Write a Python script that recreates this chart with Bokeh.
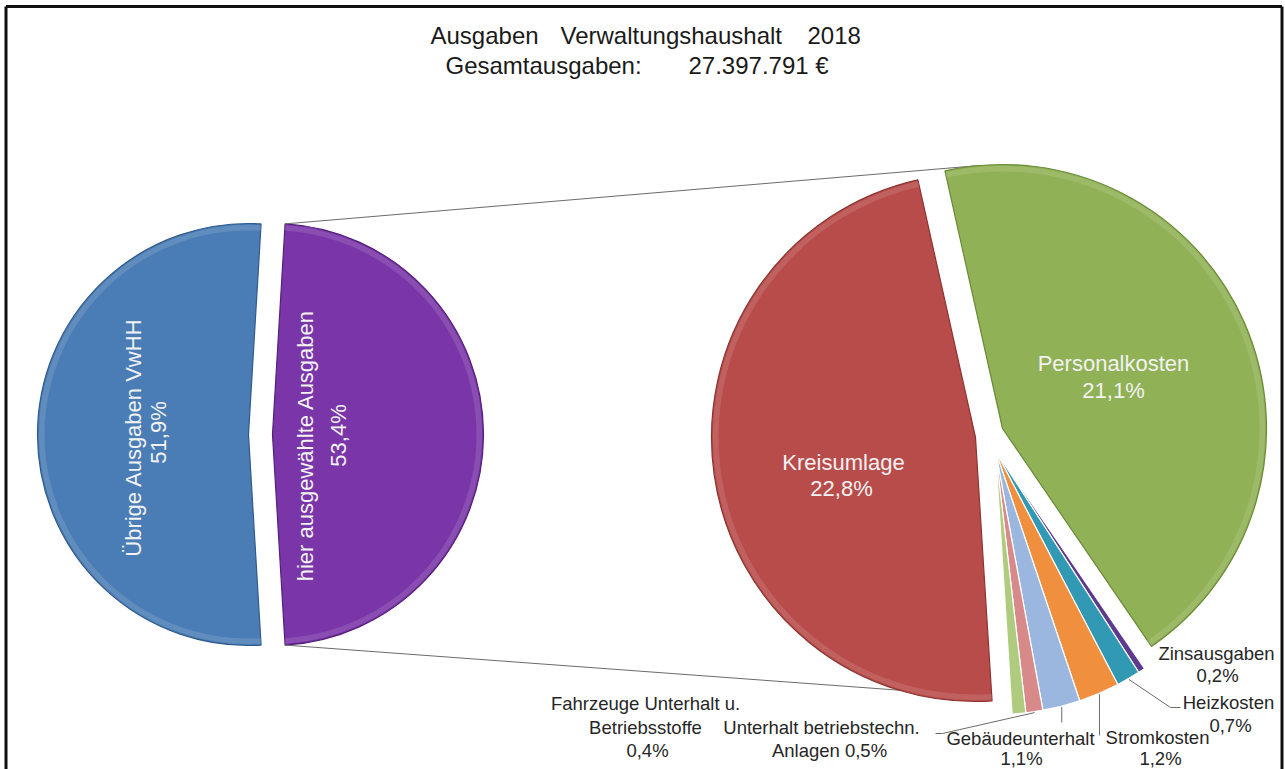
import math
from bokeh.plotting import figure
from bokeh.models import Range1d, ColumnDataSource
from bokeh.embed import file_html
from bokeh.resources import INLINE
from bokeh.core.properties import value

# ---------------- data ----------------
title_line1 = ["Ausgaben", "Verwaltungshaushalt", "2018"]
title_line2 = ["Gesamtausgaben:", "27.397.791 €"]

left_names = ["Übrige Ausgaben VwHH", "hier ausgewählte Ausgaben"]
left_shares = [51.9, 48.1]
left_label_pct = ["51,9%", "53,4%"]

right_names = ["Personalkosten", "Zinsausgaben", "Heizkosten", "Stromkosten",
               "Gebäudeunterhalt", "Unterhalt betriebstechn. Anlagen",
               "Fahrzeuge Unterhalt u. Betriebsstoffe", "Kreisumlage"]
right_values = [21.1, 0.2, 0.7, 1.2, 1.1, 0.5, 0.4, 22.8]
right_label_pct = ["21,1%", "0,2%", "0,7%", "1,2%", "1,1%", "0,5%", "0,4%", "22,8%"]

# ---------------- styles / layout ----------------
FONT = value("Liberation Sans")
left_colors = ["#4A7DB6", "#7A35A8"]
left_lines = ["#2F5A8A", "#55207A"]
right_colors = ["#90B155", "#5E3A8E", "#3199B3", "#F08F3E", "#9BB7DF",
                "#D8898A", "#AECB7E", "#B84C4A"]
right_lines = ["#6A8A38", "#FFFFFF", "#FFFFFF", "#FFFFFF", "#FFFFFF",
               "#FFFFFF", "#FFFFFF", "#8C3432"]

PW, PH = 1285, 769


def Y(sy):
    # screen y (pixels from top) -> data y (upwards)
    return PH - sy


D = math.pi / 180.0

p = figure(width=PW, height=PH, x_range=Range1d(0, PW), y_range=Range1d(0, PH),
           output_backend="svg", toolbar_location=None, min_border=0,
           x_axis_location=None, y_axis_location=None)
p.outline_line_color = None
p.grid.visible = False
p.background_fill_color = "white"
p.border_fill_color = "white"

# frame
p.line(x=[5.5, 5.5], y=[0, Y(6)], line_color="#111111", line_width=3)
p.line(x=[5.5, 1281.5], y=[Y(6), Y(6)], line_color="#111111", line_width=3)
p.line(x=[1281.5, 1281.5], y=[Y(6), 0], line_color="#111111", line_width=3)

# ---------------- left pie ----------------
R1 = 211
left_centers = [(248, 434), (272, 434)]
lt = sum(left_shares)
spans = [v / lt * 360 for v in left_shares]
mids = [180.0, 0.0]
lsrc = ColumnDataSource(dict(
    x=[c[0] for c in left_centers], y=[Y(c[1]) for c in left_centers],
    start=[(m - s / 2) * D for m, s in zip(mids, spans)],
    end=[(m + s / 2) * D for m, s in zip(mids, spans)],
    color=left_colors, lc=left_lines))
p.wedge(x="x", y="y", radius=R1, start_angle="start", end_angle="end",
        fill_color="color", line_color="lc", line_width=1.2, source=lsrc)
p.annular_wedge(x="x", y="y", inner_radius=R1 - 7, outer_radius=R1 - 1.5, start_angle="start",
                end_angle="end", fill_color="white", fill_alpha=0.12,
                line_color=None, source=lsrc)

pc = left_centers[1]
pa = math.radians(spans[1] / 2)
p_top = (pc[0] + R1 * math.cos(pa), pc[1] - R1 * math.sin(pa))
p_bot = (pc[0] + R1 * math.cos(pa), pc[1] + R1 * math.sin(pa))

# ---------------- right pie ----------------
R2 = 264
right_start = 102.6
right_centers = [(1002, 428)] + [(995, 450)] * 6 + [(975, 437)]
rt = sum(right_values)
starts, ends = [], []
a = right_start
for v in right_values:
    s = v / rt * 360
    ends.append(a)
    starts.append(a - s)
    a -= s
rsrc = ColumnDataSource(dict(
    x=[c[0] for c in right_centers], y=[Y(c[1]) for c in right_centers],
    start=[s * D for s in starts], end=[e * D for e in ends],
    color=right_colors, lc=right_lines))

# connector lines (drawn first, behind the pie)
gc = right_centers[0]
top_end = (gc[0] + R2 * math.cos(95 * D), gc[1] - R2 * math.sin(95 * D))
rc = right_centers[-1]
bot_end = (rc[0] + (R2 - 4) * math.cos(ends[-1] * D), rc[1] - (R2 - 4) * math.sin(ends[-1] * D))
p.line(x=[p_top[0], top_end[0]], y=[Y(p_top[1]), Y(top_end[1])], line_color="#6b6b6b", line_width=1)
p.line(x=[p_bot[0], bot_end[0]], y=[Y(p_bot[1]), Y(bot_end[1])], line_color="#6b6b6b", line_width=1)

p.wedge(x="x", y="y", radius=R2, start_angle="start", end_angle="end",
        fill_color="color", line_color="lc", line_width=1.2, source=rsrc)
big = ColumnDataSource(dict(
    x=[right_centers[0][0], right_centers[-1][0]],
    y=[Y(right_centers[0][1]), Y(right_centers[-1][1])],
    start=[starts[0] * D, starts[-1] * D], end=[ends[0] * D, ends[-1] * D]))
p.annular_wedge(x="x", y="y", inner_radius=R2 - 7, outer_radius=R2 - 1.5, start_angle="start",
                end_angle="end", fill_color="white", fill_alpha=0.12,
                line_color=None, source=big)


def outer_mid(i, rr=R2 + 1):
    c = right_centers[i]
    m = (starts[i] + ends[i]) / 2 * D
    return (c[0] + rr * math.cos(m), c[1] - rr * math.sin(m))


lead_pts = {
    2: [(1170, 707), (1180, 707)],
    3: [(None, 735)],
    4: [(None, 722)],
    5: [(942, 733), (935, 733)],
}
for i, pts in lead_pts.items():
    s = outer_mid(i)
    xs, ys = [s[0]], [s[1]]
    for (px, py) in pts:
        xs.append(s[0] if px is None else px)
        ys.append(py)
    p.line(x=xs, y=[Y(v) for v in ys], line_color="#6b6b6b", line_width=1)

# ---------------- texts ----------------
p.text(x=[430, 560, 807], y=[Y(35)] * 3, text=title_line1, text_font=FONT,
       text_font_size=value("24px"), text_color="#1a1a1a", text_align="left",
       text_baseline="middle")
p.text(x=[445, 688], y=[Y(65)] * 2, text=title_line2, text_font=FONT,
       text_font_size=value("24px"), text_color="#1a1a1a", text_align="left",
       text_baseline="middle")

p.text(x=[133, 158, 305, 338], y=[Y(437), Y(432), Y(445), Y(435)],
       text=[left_names[0], left_label_pct[0], left_names[1], left_label_pct[1]],
       angle=90 * D, text_font=FONT, text_font_size=value("22px"),
       text_color="#F2F2F2", text_align="center", text_baseline="middle")

p.text(x=[1113, 1113, 843, 841], y=[Y(363), Y(390), Y(462), Y(488)],
       text=[right_names[0], right_label_pct[0], right_names[7], right_label_pct[7]],
       text_font=FONT, text_font_size=value("22px"), text_color="#F2F2F2",
       text_align="center", text_baseline="middle")

small_lines = [
    ("Zinsausgaben", 1216, 653), (right_label_pct[1], 1217, 675),
    ("Heizkosten", 1228, 702), (right_label_pct[2], 1230, 725),
    ("Stromkosten", 1157, 737), (right_label_pct[3], 1160, 758),
    ("Gebäudeunterhalt", 1020, 738), (right_label_pct[4], 1021, 758),
    ("Unterhalt betriebstechn.", 821, 727), ("Anlagen " + right_label_pct[5], 829, 750),
    ("Fahrzeuge Unterhalt u.", 645, 703), ("Betriebsstoffe", 645, 727),
    (right_label_pct[6], 647, 750),
]
p.text(x=[t[1] for t in small_lines], y=[Y(t[2]) for t in small_lines],
       text=[t[0] for t in small_lines], text_font=FONT, text_font_size=value("18.5px"),
       text_color="#262626", text_align="center", text_baseline="middle")

open("out.html", "w").write(file_html(p, INLINE))
